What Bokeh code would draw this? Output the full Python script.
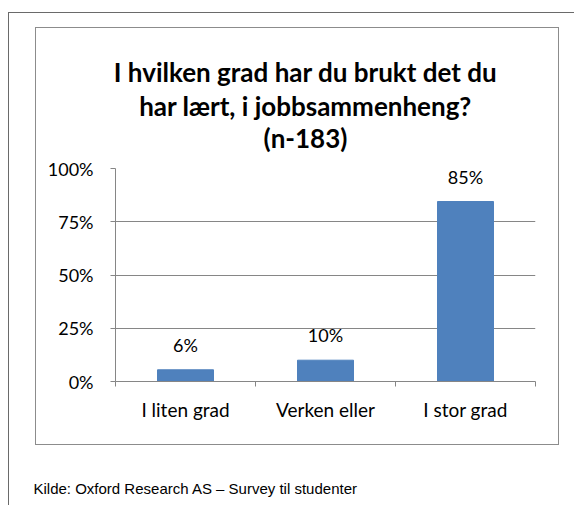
from bokeh.plotting import figure
from bokeh.layouts import column
from bokeh.models import (Range1d, FixedTicker, NumeralTickFormatter, Label,
                          ColumnDataSource)
from bokeh.core.properties import value
from bokeh.embed import file_html
from bokeh.resources import INLINE

categories = ["I liten grad", "Verken eller", "I stor grad"]
values = [0.055, 0.10, 0.845]
value_labels = ["6%", "10%", "85%"]
y_ticks = [0, 0.25, 0.5, 0.75, 1.0]
title_lines = ["I hvilken grad har du brukt det du", "har lært, i jobbsammenheng?", "(n-183)"]
source_note = "Kilde: Oxford Research AS \u2013 Survey til studenter"

FONT = "Lato"
axis_color = "#868686"

# ---------- title block ----------
TW, TH = 522, 126
tfig = figure(width=TW, height=TH, output_backend="svg", toolbar_location=None,
              x_axis_location=None, y_axis_location=None, min_border=0,
              frame_align=False,
              x_range=Range1d(0, 1), y_range=Range1d(0, 1))
tfig.outline_line_color = None
tfig.grid.visible = False
for t, yy in zip(title_lines, [83, 49, 17]):
    tfig.add_layout(Label(x=269, y=yy, x_units="screen", y_units="screen", text=t,
                          text_align="center", text_baseline="alphabetic",
                          text_font=FONT, text_font_style="bold",
                          text_font_size="26px", text_color="black"))

# ---------- main chart ----------
W, H = 522, 290
xs = [i + 0.5 for i in range(len(categories))]
src = ColumnDataSource(dict(x=xs, v=values, lab=value_labels))

p = figure(width=W, height=H, output_backend="svg", toolbar_location=None,
           x_range=Range1d(0, len(categories)), y_range=Range1d(0, 1),
           frame_align=False,
           min_border_left=79, min_border_right=23,
           min_border_top=14, min_border_bottom=63)
p.outline_line_color = None

p.vbar(x="x", top="v", width=0.4, bottom=0, source=src, fill_color="#4F81BD",
       line_color="#4F81BD")
p.text(x="x", y="v", text="lab", source=src, text_align="center",
       text_baseline="middle", y_offset=-25, text_font=value(FONT),
       text_font_size="18px", text_color="black")

yax = p.yaxis[0]
yax.ticker = FixedTicker(ticks=y_ticks)
yax.formatter = NumeralTickFormatter(format="0%")
yax.axis_line_color = axis_color
yax.major_tick_line_color = axis_color
yax.major_tick_out = 5
yax.major_tick_in = 0
yax.minor_tick_line_color = None
yax.major_label_text_font = FONT
yax.major_label_text_font_size = "18px"
yax.major_label_text_color = "black"
yax.major_label_standoff = 17

xax = p.xaxis[0]
xax.ticker = FixedTicker(ticks=xs, minor_ticks=list(range(len(categories) + 1)))
xax.major_label_overrides = {x: c for x, c in zip(xs, categories)}
xax.axis_line_color = axis_color
xax.major_tick_line_color = None
xax.minor_tick_line_color = axis_color
xax.minor_tick_out = 5
xax.minor_tick_in = 0
xax.major_label_text_font = FONT
xax.major_label_text_font_size = "19px"
xax.major_label_text_color = "black"
xax.major_label_standoff = 10

p.xgrid.grid_line_color = None
p.ygrid.grid_line_color = axis_color
p.ygrid.ticker = FixedTicker(ticks=y_ticks)

# ---------- footer ----------
ffig = figure(width=530, height=60, output_backend="svg", toolbar_location=None,
              x_axis_location=None, y_axis_location=None, min_border=0,
              frame_align=False,
              x_range=Range1d(0, 1), y_range=Range1d(0, 1))
ffig.outline_line_color = None
ffig.grid.visible = False
ffig.add_layout(Label(x=0, y=17, x_units="screen", y_units="screen", text=source_note,
                      text_align="left", text_baseline="alphabetic",
                      text_font="Liberation Sans", text_font_size="15px",
                      text_color="black"))
ffig.margin = (0, 0, 0, 24)

inner = column(tfig, p, spacing=0,
               styles={"border": "1px solid #8c8c8c"})
inner.margin = (14, 0, 0, 26)

outer = column(inner, ffig, spacing=0, width=566,
               styles={"border-top": "1px solid #6a6a6a",
                       "border-left": "1px solid #6a6a6a"})
outer.margin = (12, 0, 0, 8)

open("out.html", "w").write(file_html(outer, INLINE))
